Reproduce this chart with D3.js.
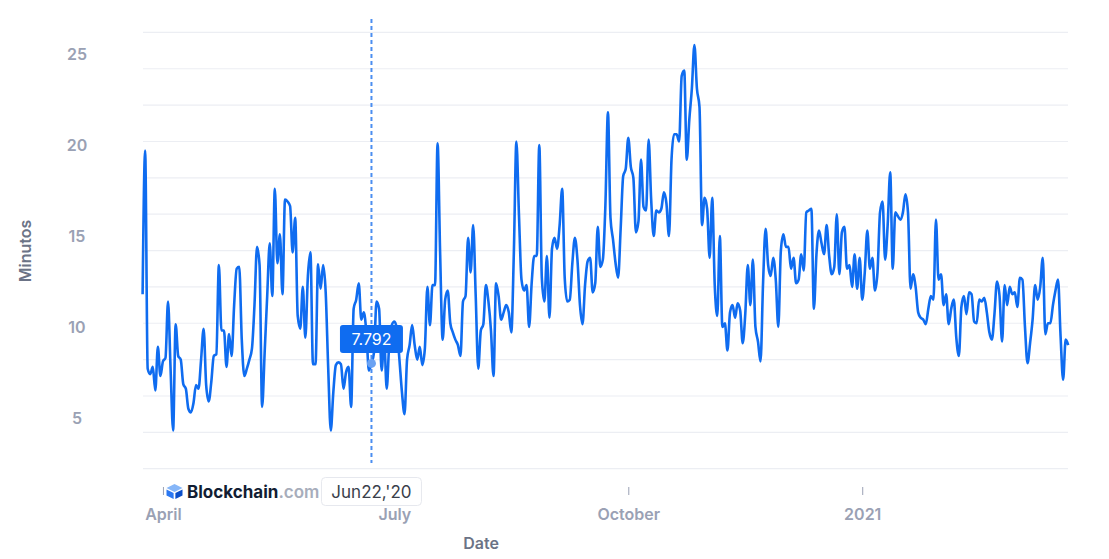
<!DOCTYPE html>
<html>
<head>
<meta charset="utf-8">
<script src="https://cdn.jsdelivr.net/npm/d3@7"></script>
<style>
  body { margin: 0; background: #fff; }
  text { font-family: Inter, 'Noto Sans', sans-serif; }
</style>
</head>
<body>
<div id="viz-container"></div>
<script>
// daily values, one per day starting at startDate
let startDate = Date.UTC(2020, 2, 24);
let minutes = [
  11.6, 19.5, 7.5, 7.2, 7.6, 6.3, 8.7, 7.1, 7.9, 8.1,
  11.2, 7.5, 4.1, 9.95, 8.2, 8.0, 6.65, 6.4, 5.3, 5.1,
  5.6, 6.6, 6.4, 8.0, 9.7, 6.6, 5.7, 6.75, 8.2, 8.3,
  13.2, 9.6, 9.6, 7.6, 9.4, 8.2, 11.0, 13.0, 13.1, 9.1,
  7.1, 7.5, 8.0, 8.6, 11.0, 14.2, 13.2, 5.4, 8.4, 11.5,
  14.4, 11.5, 17.4, 13.3, 14.9, 11.6, 16.8, 16.7, 16.45, 13.9,
  15.8, 10.4, 9.7, 12.0, 9.2, 12.6, 13.9, 7.75, 7.75, 13.25,
  11.9, 13.2, 11.7, 7.5, 4.1, 6.2, 7.7, 7.85, 7.75, 6.4,
  7.3, 7.6, 5.4, 10.8, 11.3, 12.2, 10.2, 10.6, 9.5, 7.4,
  7.792, 8.4, 11.2, 10.8, 7.4, 9.1, 6.4, 8.9, 9.9, 10.1,
  9.7, 8.0, 6.2, 5.0, 8.0, 8.8, 9.9, 8.8, 8.0, 8.7,
  7.7, 8.6, 12.0, 9.9, 12.1, 12.1, 19.9, 13.9, 9.1, 11.3,
  11.8, 10.0, 9.5, 9.1, 8.8, 8.2, 11.2, 11.5, 14.7, 12.8,
  15.4, 11.5, 7.5, 9.6, 9.95, 12.1, 11.2, 9.6, 7.1, 12.2,
  11.5, 10.2, 10.6, 11.0, 10.6, 9.5, 13.9, 20.0, 16.0, 12.4,
  11.8, 12.1, 9.8, 12.2, 13.7, 13.7, 19.8, 12.5, 11.2, 13.7,
  10.3, 14.1, 14.7, 14.1, 15.4, 17.4, 12.5, 11.2, 11.3, 13.3,
  14.7, 13.5, 11.0, 9.95, 12.1, 13.4, 13.6, 11.7, 12.2, 15.3,
  13.1, 13.5, 16.5, 21.6, 15.8, 14.6, 13.3, 12.5, 15.2, 18.1,
  18.5, 20.2, 18.6, 18.0, 15.0, 15.6, 19.0, 16.4, 16.2, 20.1,
  16.8, 14.8, 16.2, 16.1, 16.3, 17.2, 16.6, 14.8, 19.0, 20.4,
  20.4, 20.0, 23.6, 23.9, 19.0, 21.2, 22.9, 25.3, 22.9, 21.9,
  15.4, 16.9, 16.3, 13.6, 16.9, 12.1, 10.4, 14.8, 9.8, 10.0,
  8.5, 10.6, 11.0, 10.3, 11.1, 10.7, 8.9, 10.5, 13.2, 11.0,
  13.5, 9.8, 9.0, 7.9, 12.2, 15.2, 13.2, 12.6, 13.6, 12.4,
  9.8, 14.0, 14.9, 14.2, 14.2, 13.0, 13.6, 12.2, 12.4, 13.8,
  12.9, 16.1, 16.2, 16.3, 10.8, 13.8, 15.1, 14.4, 13.8, 15.4,
  13.7, 12.7, 13.1, 16.0, 12.7, 15.0, 15.3, 13.0, 13.2, 12.0,
  13.8, 11.9, 13.6, 11.3, 12.8, 15.1, 13.0, 13.6, 11.8, 12.8,
  16.1, 16.7, 13.5, 15.4, 18.3, 13.0, 16.1, 15.9, 15.7, 16.1,
  17.1, 16.1, 11.9, 12.7, 12.0, 10.6, 10.3, 10.2, 9.95, 10.8,
  11.5, 11.3, 15.7, 12.4, 12.7, 11.0, 11.6, 9.95, 10.8, 11.3,
  9.2, 8.2, 10.9, 11.5, 10.5, 11.7, 11.6, 10.1, 10.0, 11.3,
  11.2, 11.4, 10.6, 9.5, 9.1, 10.5, 12.3, 11.5, 9.0, 12.1,
  11.0, 12.0, 11.6, 11.7, 10.9, 12.5, 12.4, 9.8, 7.8, 8.9,
  10.2, 12.1, 11.3, 12.0, 13.6, 9.4, 10.0, 10.0, 11.0, 11.8,
  12.4, 9.3, 6.9, 9.1, 8.8
];

let tickDates = [Date.UTC(2020, 3, 1), Date.UTC(2020, 6, 1), Date.UTC(2020, 9, 1), Date.UTC(2021, 0, 1)];
let tickLabels = ['April', 'July', 'October', '2021'];
let yTickValues = [5, 10, 15, 20, 25];
let gridValues = [2, 4, 6, 8, 10, 12, 14, 16, 18, 20, 22, 24, 26];

// hovered point shown in the tooltip
let hoverIndex = 90;
let hoverLabel = "Jun22,'20";

let data = minutes.map(function(v, i){
  return { date: new Date(startDate + i * 864e5), value: v };
});

let viz = d3.select('#viz-container')
  .append('svg')
    .attr('width', 1109)
    .attr('height', 559)
;

let x = d3.scaleUtc()
  .domain([data[0].date, data[data.length - 1].date])
  .range([142.6, 1068.2]);

let y = d3.scaleLinear()
  .domain([2, 26])
  .range([468.7, 32.4]);

// grid
viz.append('g').selectAll('line').data(gridValues).enter()
  .append('line')
    .attr('x1', 143)
    .attr('x2', 1068)
    .attr('y1', d => y(d))
    .attr('y2', d => y(d))
    .attr('stroke', '#eceef3')
    .attr('stroke-width', 1.2)
;

// y labels
viz.append('g').selectAll('text').data(yTickValues).enter()
  .append('text')
    .attr('x', 77)
    .attr('y', d => y(d) + 4)
    .attr('dy', '0.35em')
    .attr('text-anchor', 'middle')
    .attr('fill', '#9aa1b4')
    .attr('font-size', 16)
    .attr('font-weight', 600)
    .text(d => d)
;

viz.append('text')
  .attr('transform', 'translate(31,251) rotate(-90)')
  .attr('text-anchor', 'middle')
  .attr('fill', '#6b7386')
  .attr('font-size', 16)
  .attr('font-weight', 600)
  .text('Minutos');

// x axis
let xAxis = d3.axisBottom(x)
  .tickValues(tickDates.map(d => new Date(d)))
  .tickFormat((d, i) => tickLabels[i])
  .tickSize(8)
  .tickPadding(14);

let gx = viz.append('g')
  .attr('transform', 'translate(0,487)')
  .call(xAxis);
gx.select('.domain').remove();
gx.selectAll('.tick line').attr('stroke', '#9aa1b4');
gx.selectAll('.tick text')
  .attr('fill', '#9aa1b4')
  .attr('font-size', 16)
  .attr('font-weight', 600)
  .attr('font-family', 'Inter, sans-serif');

viz.append('text')
  .attr('x', 481)
  .attr('y', 549)
  .attr('text-anchor', 'middle')
  .attr('fill', '#6b7386')
  .attr('font-size', 16)
  .attr('font-weight', 600)
  .text('Date');

// the line
let line = d3.line()
  .x(d => x(d.date))
  .y(d => y(d.value))
  .curve(d3.curveMonotoneX);

viz.append('path')
  .datum(data)
  .attr('d', line)
  .attr('fill', 'none')
  .attr('stroke', '#0f6cf0')
  .attr('stroke-width', 2.6)
  .attr('stroke-linejoin', 'round');

// hover marker
let hp = data[hoverIndex];
let hx = x(hp.date);

viz.append('line')
  .attr('x1', hx).attr('x2', hx)
  .attr('y1', 19).attr('y2', 463)
  .attr('stroke', '#4b8ef0')
  .attr('stroke-width', 2)
  .attr('stroke-dasharray', '4,3');

viz.append('circle')
  .attr('cx', hx)
  .attr('cy', y(hp.value))
  .attr('r', 4.5)
  .attr('fill', '#6aa2f3');

viz.append('rect')
  .attr('x', hx - 31.5).attr('y', 325)
  .attr('width', 63).attr('height', 28)
  .attr('rx', 3)
  .attr('fill', '#0f6cf0');

viz.append('text')
  .attr('x', hx)
  .attr('y', 339)
  .attr('dy', '0.35em')
  .attr('text-anchor', 'middle')
  .attr('fill', '#fff')
  .attr('font-size', 16)
  .text(d3.format('.3f')(hp.value));

// logo
let logo = viz.append('g');
logo.append('path')
  .attr('d', 'M174.5,484 L182.5,488 L174.5,492 L166.5,488 Z')
  .attr('fill', '#86b6f8');
logo.append('path')
  .attr('d', 'M166.5,489.5 L173.6,493 L173.6,499 L166.5,495.5 Z')
  .attr('fill', '#2b78f2');
logo.append('path')
  .attr('d', 'M182.5,489.5 L175.4,493 L175.4,499 L182.5,495.5 Z')
  .attr('fill', '#0b4fc9');

let brand = logo.append('text')
  .attr('x', 187)
  .attr('y', 498)
  .attr('font-size', 17)
  .attr('font-weight', 700);
brand.append('tspan').attr('fill', '#121d33').text('Blockchain');
brand.append('tspan').attr('fill', '#a7adbb').attr('font-weight', 600).text('.com');

// date tooltip
viz.append('rect')
  .attr('x', hx - 50).attr('y', 477.5)
  .attr('width', 100).attr('height', 28)
  .attr('rx', 4)
  .attr('fill', '#fff')
  .attr('stroke', '#e6e8ee');

viz.append('text')
  .attr('x', hx)
  .attr('y', 492)
  .attr('dy', '0.35em')
  .attr('text-anchor', 'middle')
  .attr('fill', '#3a3f4b')
  .attr('font-size', 17)
  .text(hoverLabel);
</script>
</body>
</html>
